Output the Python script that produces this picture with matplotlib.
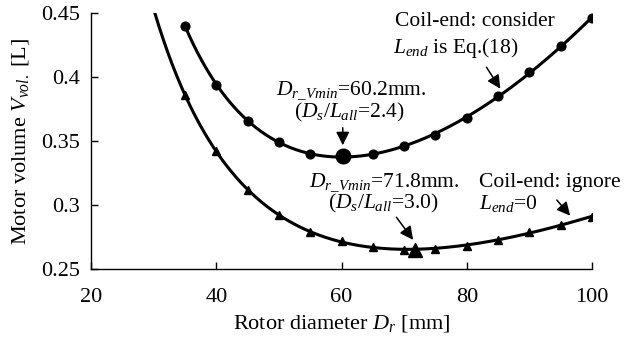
import numpy as np
import matplotlib.pyplot as plt

plt.rcParams['font.family'] = 'Liberation Serif'
plt.rcParams['mathtext.fontset'] = 'custom'
plt.rcParams['mathtext.rm'] = 'Liberation Serif'
plt.rcParams['mathtext.it'] = 'Liberation Serif:italic'

# Motor volume vs rotor diameter
dr = [35, 40, 45, 50, 55, 60, 65, 70, 75, 80, 85, 90, 95, 100]
vol_consider = [0.440, 0.394, 0.366, 0.349, 0.340, 0.338, 0.340, 0.346,
                0.355, 0.368, 0.385, 0.404, 0.424, 0.446]
vol_ignore = [0.386, 0.342, 0.312, 0.292, 0.279, 0.272, 0.267, 0.265,
              0.266, 0.268, 0.273, 0.279, 0.284, 0.291]

# optimum points
dr_min_consider, vol_min_consider = 60.2, 0.338
dr_min_ignore, vol_min_ignore = 71.8, 0.265


def smooth_curve(x, y, x_start):
    # least squares fit on a few terms, used only for the drawn line
    x = np.asarray(x, float)
    basis = lambda d: np.column_stack([d**-2, d**-1, np.ones_like(d), d, d**2])
    coef, *_ = np.linalg.lstsq(basis(x), np.asarray(y), rcond=None)
    xs = np.linspace(x_start, x[-1], 400)
    return xs, basis(xs) @ coef


fig = plt.figure(figsize=(6.26, 3.4), dpi=100)
ax = fig.add_axes([0.1454, 0.2088, 0.8003, 0.753])

xs, ys = smooth_curve(dr, vol_consider, dr[0])
ax.plot(xs, ys, color='k', lw=2.2)
ax.plot(dr, vol_consider, 'o', color='k', ms=6.3)
ax.plot(dr_min_consider, vol_min_consider, 'o', color='k', ms=10.5)

xs, ys = smooth_curve(dr, vol_ignore, 28)
ax.plot(xs, ys, color='k', lw=2.2)
ax.plot(dr, vol_ignore, '^', color='k', ms=6.3)
ax.plot(dr_min_ignore, vol_min_ignore, '^', color='k', ms=10.5)

ax.set_xlim(20, 100)
ax.set_ylim(0.25, 0.45)
ax.set_xticks([20, 40, 60, 80, 100])
ax.set_yticks([0.25, 0.3, 0.35, 0.4, 0.45])
ax.set_yticklabels(['0.25', '0.3', '0.35', '0.4', '0.45'])
ax.tick_params(direction='in', length=5, width=1, labelsize=16)
ax.tick_params(axis='x', pad=14)
ax.tick_params(axis='y', pad=8)
for s in ['top', 'right']:
    ax.spines[s].set_visible(False)
for s in ['left', 'bottom']:
    ax.spines[s].set_linewidth(1)

ax.set_xlabel('Rotor diameter $D_r$ [mm]', fontsize=16, labelpad=4)
ax.set_ylabel('Motor volume $V_{vol.}$ [L]', fontsize=16, labelpad=7)

fs = 15.5
arrow = dict(arrowstyle='-|>', color='k', lw=1.1, mutation_scale=20)

ax.text(68.5, 0.443, 'Coil-end: consider', fontsize=fs, va='center')
ax.text(68.3, 0.4225, '$L_{end}$ is Eq.(18)', fontsize=fs, va='center')
ax.annotate('', xy=(85.6, 0.389), xytext=(82.9, 0.4095), arrowprops=arrow)

ax.text(61.6, 0.3890, '$D_{r\\_Vmin}$=60.2mm.', fontsize=fs, ha='center', va='center')
ax.text(61.3, 0.3722, '($D_s$/$L_{all}$=2.4)', fontsize=fs, ha='center', va='center')
ax.annotate('', xy=(dr_min_consider, 0.3445), xytext=(dr_min_consider, 0.3625),
            arrowprops=arrow)

ax.text(66.8, 0.3177, '$D_{r\\_Vmin}$=71.8mm.', fontsize=fs, ha='center', va='center')
ax.text(66.6, 0.3013, '($D_s$/$L_{all}$=3.0)', fontsize=fs, ha='center', va='center')
ax.annotate('', xy=(71.7, 0.271), xytext=(68.5, 0.2922), arrowprops=arrow)

ax.text(81.9, 0.3177, 'Coil-end: ignore', fontsize=fs, va='center')
ax.text(81.9, 0.3013, '$L_{end}$=0', fontsize=fs, va='center')
ax.annotate('', xy=(96.8, 0.290), xytext=(94.1, 0.3055), arrowprops=arrow)

fig.savefig('out.png', dpi=100)
